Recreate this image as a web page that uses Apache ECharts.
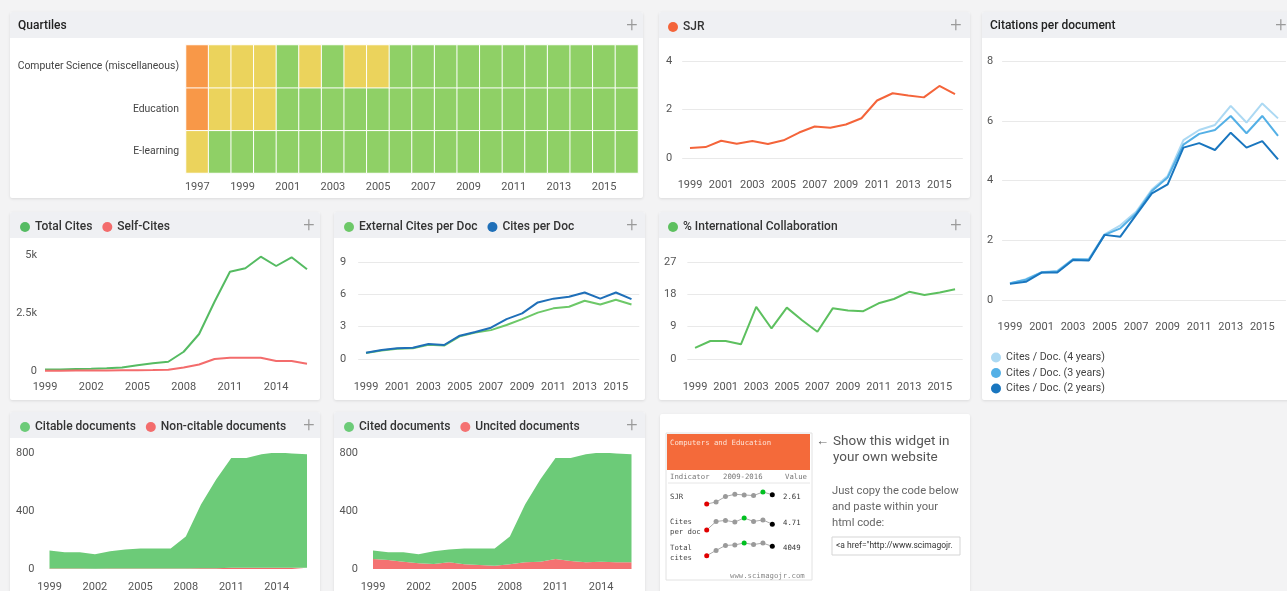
<!DOCTYPE html>
<html><head><meta charset="utf-8">
<script src="https://cdn.jsdelivr.net/npm/echarts@6/dist/echarts.min.js"></script>
<style>html,body{margin:0;padding:0;background:#f3f3f4;}#c{width:1287px;height:591px;}</style>
</head><body><div id="c"></div><script>
// ---------- DATA ----------
const years = ['1999','2000','2001','2002','2003','2004','2005','2006','2007','2008','2009','2010','2011','2012','2013','2014','2015','2016'];
const quartileYears = ['1997','1998','1999','2000','2001','2002','2003','2004','2005','2006','2007','2008','2009','2010','2011','2012','2013','2014','2015','2016'];
const quartileCategories = ['E-learning','Education','Computer Science (miscellaneous)'];
const quartilesComputerScience = ['Q3','Q2','Q2','Q2','Q1','Q2','Q1','Q2','Q2','Q1','Q1','Q1','Q1','Q1','Q1','Q1','Q1','Q1','Q1','Q1'];
const quartilesEducation = ['Q3','Q2','Q2','Q2','Q1','Q1','Q1','Q1','Q1','Q1','Q1','Q1','Q1','Q1','Q1','Q1','Q1','Q1','Q1','Q1'];
const quartilesELearning = ['Q2','Q1','Q1','Q1','Q1','Q1','Q1','Q1','Q1','Q1','Q1','Q1','Q1','Q1','Q1','Q1','Q1','Q1','Q1','Q1'];
const sjr = [0.41,0.45,0.71,0.59,0.70,0.58,0.73,1.05,1.30,1.25,1.38,1.64,2.37,2.67,2.58,2.50,2.97,2.63];
const citesDoc4 = [0.55,0.70,0.93,0.98,1.37,1.38,2.20,2.50,2.95,3.70,4.15,5.35,5.69,5.86,6.50,5.94,6.58,6.08];
const citesDoc3 = [0.56,0.68,0.92,0.95,1.36,1.35,2.18,2.40,2.90,3.65,4.10,5.20,5.56,5.69,6.16,5.58,6.16,5.49];
const citesDoc2 = [0.54,0.61,0.92,0.92,1.34,1.32,2.18,2.12,2.85,3.57,3.87,5.10,5.25,5.02,5.60,5.10,5.32,4.71];
const totalCites = [60,70,85,100,120,150,250,330,400,830,1595,2987,4280,4427,4927,4526,4900,4383];
const selfCites = [15,15,20,25,25,30,35,40,55,150,280,517,573,573,573,431,431,316];
const externalCitesPerDoc = [0.55,0.78,0.95,1.00,1.33,1.25,2.10,2.45,2.68,3.15,3.70,4.30,4.70,4.85,5.40,5.06,5.50,5.06];
const citesPerDoc = [0.59,0.83,1.00,1.05,1.39,1.30,2.16,2.50,2.90,3.70,4.23,5.25,5.60,5.77,6.17,5.60,6.17,5.55];
const intlCollab = [3.1,5.0,5.0,4.1,14.5,8.5,14.3,10.8,7.6,14.1,13.5,13.3,15.5,16.7,18.7,17.8,18.5,19.4];
const citableDocs = [124,112,112,100,119,131,138,138,138,222,440,612,757,757,784,796,789,784];
const nonCitableDocs = [3,3,3,2,3,3,3,3,3,3,5,6,8,8,8,8,8,8];
const citedDocs = [58,53,65,63,88,88,109,113,118,193,399,568,696,710,746,754,751,746];
const uncitedDocs = [69,62,50,39,34,46,32,28,23,32,46,50,69,55,46,50,46,46];
const widgetYears = ['2009','2010','2011','2012','2013','2014','2015','2016'];
const widgetSJR = [1.38,1.64,2.37,2.67,2.58,2.50,2.97,2.61];
const widgetCites = [3.87,5.10,5.25,5.02,5.60,5.10,5.32,4.71];
const widgetTotal = [1595,2987,4280,4427,4927,4526,4900,4049];
const widgetValues = ['2.61','4.71','4049'];

// ---------- STYLE ----------
const FONT = 'Roboto, "Noto Sans", sans-serif';
const MONO = '"DejaVu Sans Mono", "Liberation Mono", monospace';
const qColors = {Q1:'#8fd066', Q2:'#ebd35c', Q3:'#f89848', Q4:'#e8503c'};
const qNum = {Q1:1,Q2:2,Q3:3,Q4:4};
const heatData = [];
[quartilesELearning, quartilesEducation, quartilesComputerScience].forEach((row, r) =>
  row.forEach((q, i) => heatData.push([i, r, qNum[q]])));

const graphics = [];
function txt(x, y, text, font, fill, align, z) {
  graphics.push({type:'text', x, y, z: z || 5, silent:true,
    style:{text, font, fill, align: align || 'left', verticalAlign:'middle'}});
}
function panel(x, y, w, h, header, plusX, title) {
  graphics.push({type:'rect', z:0, silent:true, shape:{x, y, width:w, height:h, r:2},
    style:{fill:'#fff', shadowBlur:3, shadowColor:'rgba(0,0,0,0.10)', shadowOffsetY:1}});
  if (header) {
    graphics.push({type:'rect', z:1, silent:true, shape:{x, y, width:w, height:26, r:[2,2,0,0]}, style:{fill:'#eff0f3'}});
    graphics.push({type:'text', z:5, silent:true, x:plusX, y:y+14,
      style:{text:'+', font:'300 20px ' + FONT, fill:'#9a9a9a', align:'center', verticalAlign:'middle'}});
  }
  if (title) txt(x + 8, y + 14, title, '500 12px ' + FONT, '#222');
}
panel(10, 12, 633, 186, true, 632, 'Quartiles');
panel(659, 12, 311, 186, true, 956);
panel(982, 12, 320, 388, true, 1281, 'Citations per document');
panel(10, 212, 310, 188, true, 309);
panel(334, 212, 311, 188, true, 632);
panel(659, 212, 311, 188, true, 956);
panel(10, 412, 310, 200, true, 309);
panel(334, 412, 311, 200, true, 632);
panel(660, 414, 310, 200, false);

// widget
graphics.push({type:'rect', z:1, silent:true, shape:{x:666, y:433, width:146, height:147}, style:{fill:'#fff', stroke:'#e2e2e2', lineWidth:1}});
graphics.push({type:'rect', z:2, silent:true, shape:{x:667, y:434, width:143, height:36}, style:{fill:'#f46a3a'}});
graphics.push({type:'line', z:2, silent:true, shape:{x1:668, y1:483, x2:810, y2:483}, style:{stroke:'#e6e6e6', lineWidth:1}});
txt(670, 443, 'Computers and Education', '7.3px ' + MONO, '#fde3d6');
txt(670, 477, 'Indicator', '7.3px ' + MONO, '#777');
txt(723, 477, '2009-2016', '7.3px ' + MONO, '#777');
txt(785, 477, 'Value', '7.3px ' + MONO, '#777');
txt(670, 497.5, 'SJR', '7.3px ' + MONO, '#444');
txt(670, 522.5, 'Cites', '7.3px ' + MONO, '#444');
txt(670, 532.5, 'per doc', '7.3px ' + MONO, '#444');
txt(670, 548, 'Total', '7.3px ' + MONO, '#444');
txt(670, 558, 'cites', '7.3px ' + MONO, '#444');
txt(783, 497.5, widgetValues[0], '7.3px ' + MONO, '#333');
txt(783, 523, widgetValues[1], '7.3px ' + MONO, '#333');
txt(783, 548, widgetValues[2], '7.3px ' + MONO, '#333');
txt(730, 576, 'www.scimagojr.com', '7.3px ' + MONO, '#888');
txt(816, 442, '\u2190', '13px ' + FONT, '#666');
txt(833, 442, 'Show this widget in', '13.5px ' + FONT, '#555');
txt(833, 458, 'your own website', '13.5px ' + FONT, '#555');
txt(832, 491, 'Just copy the code below', '11.2px ' + FONT, '#666');
txt(832, 507, 'and paste within your', '11.2px ' + FONT, '#666');
txt(832, 523, 'html code:', '11.2px ' + FONT, '#666');
graphics.push({type:'rect', z:2, silent:true, shape:{x:832, y:537, width:128, height:18}, style:{fill:'#fff', stroke:'#d5d5d5', lineWidth:1}});
graphics.push({type:'text', z:5, silent:true, x:836, y:546,
  style:{text:'<a href="http://www.scimagojr.com', font:'8.5px ' + FONT, fill:'#333', verticalAlign:'middle', width:122, overflow:'truncate', ellipsis:''}});

// ---------- AXES ----------
const labelStyle = {color:'#555', fontSize:11, fontFamily:FONT};
function xCat(gridIndex, data, interval, margin, boundaryGap) {
  return {type:'category', gridIndex, data, boundaryGap,
    axisLine:{show:false}, axisTick:{show:false}, splitLine:{show:false},
    axisLabel:Object.assign({interval, margin}, labelStyle)};
}
function yVal(gridIndex, max, interval, margin, split, formatter) {
  return {type:'value', gridIndex, min:0, max, interval,
    axisLine:{show:false}, axisTick:{show:false},
    splitLine:{show:split, lineStyle:{color:'#e9e9e9', width:1}},
    axisLabel:Object.assign({margin, formatter}, labelStyle)};
}
function g(left, top, width, height) {
  return {left, top, width, height, containLabel:false, outerBoundsMode:'none'};
}
const grids = [
  g(186, 45, 452, 128),          // 0 quartiles
  g(682.2, 61, 280.6, 97),       // 1 SJR
  g(1002.1, 61, 283.8, 239),     // 2 citations per doc
  g(45, 255, 262, 116),          // 3 total cites
  g(358.2, 262, 281.1, 97),      // 4 external cites
  g(687.4, 262, 275.3, 97),      // 5 intl collab
  g(49.5, 453, 257.5, 116),      // 6 citable
  g(373, 453, 258.5, 116),       // 7 cited
  g(706.7, 492, 65.6, 12),       // 8 spark SJR
  g(706.7, 518, 65.6, 12),       // 9 spark cites
  g(706.7, 543, 65.6, 12.7)      // 10 spark total
];
const xAxes = [
  xCat(0, quartileYears, 1, 9, true),
  xCat(1, years, 1, 22, true),
  xCat(2, years, 1, 22, true),
  xCat(3, years, 2, 11, false),
  xCat(4, years, 1, 23, true),
  xCat(5, years, 1, 23, true),
  xCat(6, years, 2, 13, false),
  xCat(7, years, 2, 13, false),
  {type:'category', gridIndex:8, data:widgetYears, boundaryGap:false, show:false},
  {type:'category', gridIndex:9, data:widgetYears, boundaryGap:false, show:false},
  {type:'category', gridIndex:10, data:widgetYears, boundaryGap:false, show:false}
];
const yAxes = [
  {type:'category', gridIndex:0, data:quartileCategories, axisLine:{show:false}, axisTick:{show:false},
    axisLabel:Object.assign({margin:7}, labelStyle, {color:'#444', fontSize:10.4})},
  yVal(1, 4, 2, 10, true),
  yVal(2, 8, 2, 9, true),
  yVal(3, 5000, 2500, 8, false, v => v === 0 ? '0' : (v / 1000) + 'k'),
  yVal(4, 9, 3, 12, true),
  yVal(5, 27, 9, 11, true),
  yVal(6, 800, 400, 15, false),
  yVal(7, 800, 400, 15, false),
  {type:'value', gridIndex:8, min:'dataMin', max:'dataMax', show:false, scale:true},
  {type:'value', gridIndex:9, min:'dataMin', max:'dataMax', show:false, scale:true},
  {type:'value', gridIndex:10, min:'dataMin', max:'dataMax', show:false, scale:true}
];

// ---------- SERIES ----------
function line(name, idx, data, color, width) {
  return {name, type:'line', xAxisIndex:idx, yAxisIndex:idx, data, symbol:'none', smooth:false,
    color, lineStyle:{color, width: width || 2}, z:3, animation:false};
}
function area(name, idx, data, color) {
  return {name, type:'line', xAxisIndex:idx, yAxisIndex:idx, data, stack:'s' + idx, symbol:'none',
    color, lineStyle:{width:0}, areaStyle:{color, opacity:1}, z:3, animation:false};
}
function spark(idx, data) {
  const maxV = Math.max.apply(null, data);
  const pts = data.map((v, i) => {
    let c = '#9a9a9a';
    if (i === 0) c = '#e00000';
    else if (i === data.length - 1) c = '#000';
    else if (v === maxV) c = '#00c020';
    return {value:v, itemStyle:{color:c}};
  });
  return {type:'line', xAxisIndex:idx, yAxisIndex:idx, data:pts, symbol:'circle', symbolSize:5,
    showSymbol:true, lineStyle:{color:'#aaa', width:1}, z:6, animation:false, silent:true};
}
const series = [
  {type:'heatmap', xAxisIndex:0, yAxisIndex:0, data:heatData,
    itemStyle:{borderColor:'#ffffff', borderWidth:1}, emphasis:{disabled:true}, animation:false},
  line('SJR', 1, sjr, '#f4643a'),
  line('Cites / Doc. (4 years)', 2, citesDoc4, '#acd9f3'),
  line('Cites / Doc. (3 years)', 2, citesDoc3, '#54b0e6'),
  line('Cites / Doc. (2 years)', 2, citesDoc2, '#1976bf'),
  line('Total Cites', 3, totalCites, '#55bb62'),
  line('Self-Cites', 3, selfCites, '#f36c6c'),
  line('External Cites per Doc', 4, externalCitesPerDoc, '#6dc868'),
  line('Cites per Doc', 4, citesPerDoc, '#1f6fb8'),
  line('% International Collaboration', 5, intlCollab, '#5dc05f'),
  area('Non-citable documents', 6, nonCitableDocs, '#f36c6c'),
  area('Citable documents', 6, citableDocs, '#6ccb78'),
  area('Uncited documents', 7, uncitedDocs, '#f47272'),
  area('Cited documents', 7, citedDocs, '#6ccb78'),
  spark(8, widgetSJR),
  spark(9, widgetCites),
  spark(10, widgetTotal)
];

function legend(data, left, top, extra) {
  return Object.assign({data, left, top, icon:'circle', itemWidth:10, itemHeight:10, itemGap:10,
    padding:0, selectedMode:false, z:6,
    textStyle:{fontSize:12, color:'#333', fontFamily:FONT, fontWeight:500}}, extra || {});
}

const option = {
  backgroundColor:'#f3f3f4',
  animation:false,
  textStyle:{fontFamily:FONT},
  graphic:graphics,
  grid:grids,
  xAxis:xAxes,
  yAxis:yAxes,
  visualMap:{type:'piecewise', show:false, seriesIndex:0, dimension:2,
    pieces:[{value:1, color:qColors.Q1},{value:2, color:qColors.Q2},{value:3, color:qColors.Q3},{value:4, color:qColors.Q4}]},
  legend:[
    legend(['SJR'], 668, 21),
    legend(['Total Cites','Self-Cites'], 20, 221),
    legend(['External Cites per Doc','Cites per Doc'], 344, 221),
    legend(['% International Collaboration'], 668, 221),
    legend(['Citable documents','Non-citable documents'], 20, 421),
    legend(['Cited documents','Uncited documents'], 344, 421),
    legend(['Cites / Doc. (4 years)','Cites / Doc. (3 years)','Cites / Doc. (2 years)'], 991, 352,
      {orient:'vertical', itemGap:4.5, itemWidth:10, itemHeight:10,
       textStyle:{fontSize:10.6, color:'#444', fontFamily:FONT}})
  ],
  series
};
const chart = echarts.init(document.getElementById('c'));
chart.setOption(option);
</script></body></html>
